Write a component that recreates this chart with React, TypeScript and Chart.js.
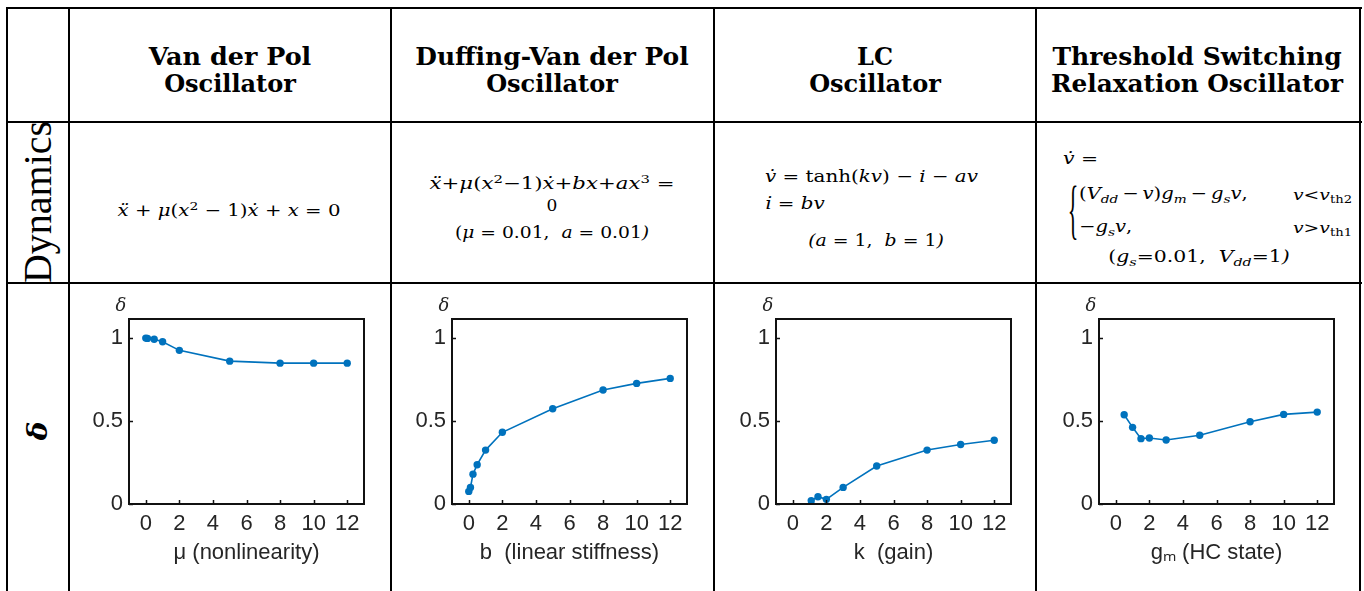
import React, { useEffect, useRef } from 'react';
import { Chart, registerables } from 'chart.js';

Chart.register(...registerables);

// ---- data ----
const X_TICKS = [0, 2, 4, 6, 8, 10, 12];
const Y_TICKS = [0, 0.5, 1];

const vdpMu = [0, 0.1, 0.5, 1, 2, 5, 8, 10, 12];
const vdpDelta = [1.0, 0.998, 0.993, 0.978, 0.926, 0.861, 0.849, 0.849, 0.849];

const dvdpB = [0, 0.1, 0.25, 0.5, 1, 2, 5, 8, 10, 12];
const dvdpDelta = [0.076, 0.1, 0.18, 0.237, 0.325, 0.432, 0.574, 0.687, 0.727, 0.757];

const lcK = [1.1, 1.5, 2, 3, 5, 8, 10, 12];
const lcDelta = [0.02, 0.044, 0.028, 0.1, 0.229, 0.325, 0.359, 0.384];

const tsGm = [0.5, 1, 1.5, 2, 3, 5, 8, 10, 12];
const tsDelta = [0.538, 0.462, 0.394, 0.398, 0.386, 0.414, 0.496, 0.54, 0.554];

const X_MIN = -1;
const X_MAX = 13;
const Y_MIN = 0;
const Y_MAX = 1.115;

// ---- styles ----
const INK = '#262626';
const LINE_BLUE = '#0072BD';
const SANS = "'Liberation Sans', Arial, Helvetica, sans-serif";
const TICK_FONT = { family: SANS, size: 22 };
const MATH = "'DejaVu Serif', serif";

const boxPlugin = {
  id: 'matlabBox',
  afterDraw(chart: any) {
    const { ctx, chartArea: a, scales } = chart;
    ctx.save();
    ctx.strokeStyle = '#111';
    ctx.lineWidth = 2;
    ctx.strokeRect(a.left, a.top, a.right - a.left, a.bottom - a.top);
    ctx.lineWidth = 1.5;
    ctx.beginPath();
    X_TICKS.forEach((v) => {
      const px = Math.round(scales.x.getPixelForValue(v)) + 0.5;
      ctx.moveTo(px, a.bottom);
      ctx.lineTo(px, a.bottom - 4);
    });
    Y_TICKS.forEach((v) => {
      const py = Math.round(scales.y.getPixelForValue(v)) + 0.5;
      ctx.moveTo(a.left, py);
      ctx.lineTo(a.left + 4, py);
    });
    ctx.stroke();
    ctx.restore();
  },
};

function T({ x, y, a = 'c', sx = 1, rot = 0, s = {}, children }: any) {
  const tx = a === 'c' ? '-50%' : a === 'l' ? '0' : '-100%';
  const origin = a === 'c' ? 'center center' : a === 'l' ? 'left center' : 'right center';
  return (
    <div
      style={{
        position: 'absolute',
        left: x,
        top: y,
        transform: `translate(${tx},-50%)${sx !== 1 ? ` scaleX(${sx})` : ''}${rot ? ` rotate(${rot}deg)` : ''}`,
        transformOrigin: origin,
        whiteSpace: 'nowrap',
        lineHeight: 1,
        ...s,
      }}
    >
      {children}
    </div>
  );
}

function DeltaChart({ xs, ys, xTitle, axisLeft }: { xs: number[]; ys: number[]; xTitle: string; axisLeft: number }) {
  const ref = useRef<HTMLCanvasElement>(null);
  useEffect(() => {
    const chart = new Chart(ref.current as HTMLCanvasElement, {
      type: 'scatter',
      data: {
        datasets: [
          {
            data: xs.map((x, i) => ({ x, y: ys[i] })),
            showLine: true,
            borderColor: LINE_BLUE,
            backgroundColor: LINE_BLUE,
            borderWidth: 1.6,
            pointRadius: 3.7,
            pointBorderWidth: 0,
            pointHoverRadius: 3.7,
          },
        ],
      },
      options: {
        responsive: false,
        animation: false,
        devicePixelRatio: 1,
        events: [],
        layout: { padding: { top: 34, right: 24, left: 0, bottom: 0 } },
        plugins: { legend: { display: false }, tooltip: { enabled: false } },
        scales: {
          x: {
            type: 'linear',
            min: X_MIN,
            max: X_MAX,
            afterBuildTicks: (s: any) => {
              s.ticks = X_TICKS.map((v) => ({ value: v }));
            },
            afterFit: (s: any) => {
              s.height = 87;
            },
            grid: { display: false, drawTicks: false },
            border: { display: false },
            ticks: {
              font: TICK_FONT,
              color: INK,
              padding: 7,
              maxRotation: 0,
              autoSkip: false,
              callback: (v: any) => String(v),
            },
            title: {
              display: true,
              text: xTitle,
              font: TICK_FONT,
              color: INK,
              padding: { top: 0, bottom: 25 },
            },
          },
          y: {
            type: 'linear',
            min: Y_MIN,
            max: Y_MAX,
            afterBuildTicks: (s: any) => {
              s.ticks = Y_TICKS.map((v) => ({ value: v }));
            },
            afterFit: (s: any) => {
              s.width = 59;
            },
            grid: { display: false, drawTicks: false },
            border: { display: false },
            ticks: {
              font: TICK_FONT,
              color: INK,
              padding: 6,
              autoSkip: false,
              callback: (v: any) => String(v),
            },
          },
        },
      } as any,
      plugins: [boxPlugin],
    });
    return () => chart.destroy();
  }, []);
  return (
    <>
      <canvas
        ref={ref}
        width={318}
        height={306}
        style={{ position: 'absolute', left: axisLeft - 59, top: 285, width: 318, height: 306 }}
      />
      <T x={axisLeft - 8} y={305} s={{ fontFamily: MATH, fontStyle: 'italic', fontSize: 18, color: INK }}>
        δ
      </T>
    </>
  );
}

const Sup = ({ children }: any) => (
  <span style={{ fontSize: '0.7em', position: 'relative', top: '-0.5em' }}>{children}</span>
);
const Sub = ({ children }: any) => (
  <span style={{ fontSize: '0.7em', position: 'relative', top: '0.3em' }}>{children}</span>
);

const HLINES = [8, 122, 283];
const VLINES = [7, 69, 391, 714, 1036, 1360];

export default function App() {
  const head = { fontFamily: MATH, fontWeight: 'bold', fontSize: 24, color: '#000' } as any;
  const m = { fontFamily: MATH, fontSize: 17, color: '#000' } as any;
  const small = { fontFamily: MATH, fontSize: 15, color: '#000' } as any;
  return (
    <div style={{ position: 'absolute', left: 0, top: 0, width: 1364, height: 591, background: '#fff', overflow: 'hidden' }}>
      {/* headers */}
      <T x={230} y={57} sx={1.06} s={head}>Van der Pol</T>
      <T x={230} y={84} s={head}>Oscillator</T>
      <T x={552} y={57} sx={1.04} s={head}>Duffing-Van der Pol</T>
      <T x={552} y={84} s={head}>Oscillator</T>
      <T x={875} y={57} s={head}>LC</T>
      <T x={875} y={84} s={head}>Oscillator</T>
      <T x={1197} y={57} sx={1.04} s={head}>Threshold Switching</T>
      <T x={1197} y={84} sx={1.03} s={head}>Relaxation Oscillator</T>

      {/* row labels */}
      <T x={38} y={202} rot={-90} s={{ fontFamily: "'Liberation Serif', serif", fontSize: 40, color: '#000' }}>
        Dynamics
      </T>
      <T x={38} y={431} rot={-90} s={{ fontFamily: MATH, fontWeight: 'bold', fontStyle: 'italic', fontSize: 28, color: '#000' }}>
        δ
      </T>

      {/* dynamics: Van der Pol */}
      <T x={229} y={210} sx={1.16} s={m}>
        <i>ẍ</i> + <i>μ</i>(<i>x</i><Sup>2</Sup> − 1)<i>ẋ</i> + <i>x</i> = 0
      </T>

      {/* dynamics: Duffing-Van der Pol */}
      <T x={552} y={183} sx={1.25} s={m}>
        <i>ẍ</i>+<i>μ</i>(<i>x</i><Sup>2</Sup>−1)<i>ẋ</i>+<i>bx</i>+<i>ax</i><Sup>3</Sup> =
      </T>
      <T x={552} y={205} s={m}>0</T>
      <T x={552} y={232} sx={1.1} s={m}>
        (<i>μ</i> = 0.01,&nbsp; <i>a</i> = 0.01<i>)</i>
      </T>

      {/* dynamics: LC */}
      <T x={765} y={176} a="l" sx={1.17} s={m}>
        <i>v̇</i> = tanh(<i>kv</i>) − <i>i</i> − <i>av</i>
      </T>
      <T x={765} y={203} a="l" sx={1.17} s={m}>
        <i>{'\u0131\u0307'}</i> = <i>bv</i>
      </T>
      <T x={876} y={240} sx={1.11} s={m}>
        <i>(a</i> = 1,&nbsp; <i>b</i> = 1<i>)</i>
      </T>

      {/* dynamics: threshold switching */}
      <T x={1063} y={158} a="l" sx={1.2} s={m}>
        <i>v̇</i> =
      </T>
      <T x={1073} y={210} s={{ fontFamily: "'Liberation Serif', serif", fontSize: 22, color: '#000', transform: 'translate(-50%,-50%) scaleY(3)' }}>
        {'{'}
      </T>
      <T x={1079} y={193} a="l" sx={1.15} s={m}>
        (<i>V</i><Sub><i>dd</i></Sub>{'\u2009'}−{'\u2009'}<i>v</i>)<i>g</i><Sub><i>m</i></Sub>{'\u2009'}−{'\u2009'}<i>g</i><Sub><i>s</i></Sub><i>v</i>,
      </T>
      <T x={1352} y={195} a="r" sx={1.25} s={small}>
        <i>v</i>&lt;<i>v</i><Sub>th2</Sub>
      </T>
      <T x={1079} y={226} a="l" sx={1.15} s={m}>
        −<i>g</i><Sub><i>s</i></Sub><i>v</i>,
      </T>
      <T x={1352} y={228} a="r" sx={1.25} s={small}>
        <i>v</i>&gt;<i>v</i><Sub>th1</Sub>
      </T>
      <T x={1199} y={256} sx={1.2} s={m}>
        (<i>g</i><Sub><i>s</i></Sub>=0.01,&nbsp; <i>V</i><Sub><i>dd</i></Sub>=1<i>)</i>
      </T>

      {/* charts */}
      <DeltaChart xs={vdpMu} ys={vdpDelta} xTitle="μ (nonlinearity)" axisLeft={129} />
      <DeltaChart xs={dvdpB} ys={dvdpDelta} xTitle="b  (linear stiffness)" axisLeft={452} />
      <DeltaChart xs={lcK} ys={lcDelta} xTitle="k  (gain)" axisLeft={776} />
      <DeltaChart xs={tsGm} ys={tsDelta} xTitle="gₘ (HC state)" axisLeft={1099} />

      {/* table rules */}
      {HLINES.map((y) => (
        <div key={'h' + y} style={{ position: 'absolute', left: 6, top: y - 1, width: 1356, height: 2, background: '#000' }} />
      ))}
      {VLINES.map((x) => (
        <div key={'v' + x} style={{ position: 'absolute', left: x - 1, top: 7, width: 2, height: 600, background: '#000' }} />
      ))}
    </div>
  );
}
